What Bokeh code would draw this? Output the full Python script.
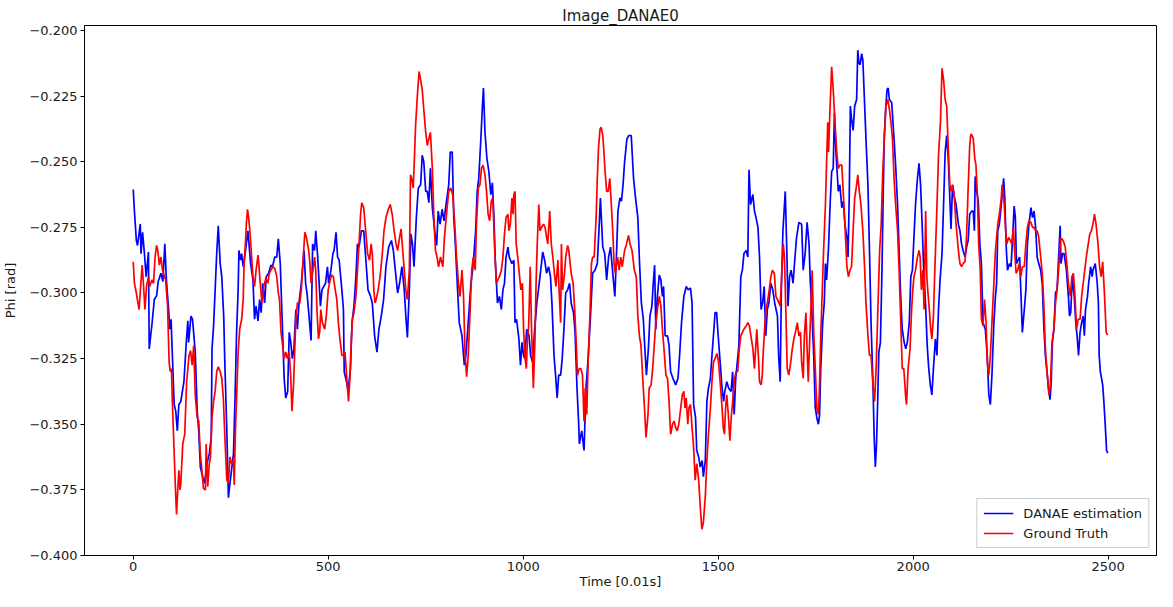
from bokeh.plotting import figure
from bokeh.models import Range1d, FixedTicker, CustomJSTickFormatter, Legend, LegendItem
from bokeh.embed import file_html
from bokeh.resources import INLINE

# ---------------- data ----------------
blue_t = [0, 3, 8, 11, 18, 20, 24, 29, 33, 39, 41, 48, 54, 60, 64, 71, 76, 81, 85, 90, 94, 97,
          100, 105, 109, 113, 117, 122, 130, 136, 140, 142, 148, 152, 159, 164, 168, 172, 178, 183, 189, 195,
          200, 202, 206, 210, 214, 218, 223, 227, 232, 235, 240, 244, 248, 252, 257, 261, 265, 269, 271, 275, 278, 282, 288, 294,
          301, 307, 311, 315, 320, 324, 328, 332, 337, 341, 347, 353, 357, 363, 368, 372, 377, 383, 387, 391, 396,
          400, 404, 408, 412, 417, 421, 425, 431, 438, 442, 446, 450, 456, 460, 465, 468, 473, 480, 484, 493, 498,
          501, 507, 512, 515, 520, 524, 528, 535, 539, 541, 547, 551, 557, 561, 566, 571, 575, 579, 585, 591, 596,
          602, 608, 613, 619, 625, 630, 636, 642, 648, 655, 662, 667, 672, 678, 683, 689, 695, 699,
          703, 708, 712, 716, 720, 726, 731, 737, 741, 745, 750, 754, 758, 762, 767, 773, 778, 782, 787, 792, 797,
          802, 809, 813, 818, 822, 826, 830, 836, 843, 849, 853, 859, 866, 872, 878, 882, 886, 891, 895, 898,
          902, 907, 912, 917, 921, 925, 928, 934, 939, 944, 948, 952, 956, 961, 964, 971, 976, 979, 983, 989, 993, 997,
          1001, 1004, 1009, 1015, 1019, 1024, 1030, 1035, 1041, 1045, 1050, 1055, 1060, 1065, 1070, 1074, 1079, 1083, 1087, 1091, 1096,
          1100, 1104, 1109, 1114, 1119, 1123, 1129, 1133, 1138, 1142, 1144, 1150, 1156, 1161, 1167, 1173, 1178, 1184, 1190, 1195, 1198,
          1204, 1209, 1214, 1219, 1224, 1229, 1235, 1239, 1243, 1248, 1252, 1256, 1260, 1266, 1271, 1277, 1283, 1288, 1294, 1298,
          1303, 1308, 1312, 1316, 1321, 1325, 1330, 1333, 1337, 1340, 1344, 1349, 1353, 1357, 1360, 1364, 1370, 1374, 1378, 1384, 1391, 1397,
          1401, 1406, 1412, 1418, 1423, 1429, 1433, 1437, 1442, 1445, 1450, 1454, 1459, 1462, 1467, 1471, 1475, 1480, 1484, 1489, 1492, 1496,
          1500, 1505, 1510, 1514, 1517, 1522, 1527, 1533, 1537, 1541, 1545, 1549, 1553, 1558, 1562, 1566, 1572, 1576, 1579, 1583, 1589, 1593, 1597,
          1602, 1606, 1610, 1614, 1618, 1622, 1626, 1630, 1635, 1640, 1645, 1652, 1655, 1659, 1662, 1666, 1669, 1672, 1676, 1679, 1683, 1687, 1692, 1697,
          1701, 1707, 1714, 1718, 1723, 1728, 1733, 1736, 1740, 1745, 1749, 1753, 1757, 1760, 1763, 1768, 1772, 1775, 1778, 1783, 1787, 1791, 1795, 1798,
          1802, 1808, 1812, 1817, 1821, 1825, 1830, 1833, 1836, 1839, 1842, 1846, 1850, 1855, 1858, 1861, 1864, 1868, 1871, 1875, 1879, 1884, 1888, 1892, 1897,
          1900, 1903, 1906, 1909, 1912, 1916, 1920, 1923, 1926, 1930, 1933, 1936, 1939, 1945, 1951, 1955, 1960, 1964, 1968, 1972, 1977, 1981, 1985, 1990, 1994, 1998,
          2002, 2006, 2011, 2015, 2019, 2023, 2027, 2032, 2036, 2040, 2044, 2048, 2052, 2057, 2061, 2065, 2069, 2074, 2078, 2082, 2086, 2090, 2094, 2097,
          2101, 2106, 2110, 2116, 2120, 2124, 2128, 2133, 2137, 2141, 2145, 2150, 2154, 2157, 2159, 2163, 2167, 2171, 2175, 2179, 2185, 2190, 2194, 2198,
          2202, 2207, 2211, 2214, 2217, 2221, 2226, 2229, 2232, 2235, 2239, 2242, 2247, 2251, 2255, 2259, 2262, 2265, 2269, 2273, 2276, 2280, 2285, 2289, 2293, 2297,
          2302, 2306, 2310, 2314, 2318, 2322, 2327, 2331, 2335, 2339, 2344, 2348, 2351, 2354, 2357, 2361, 2365, 2369, 2373, 2377, 2379, 2383, 2387, 2393, 2398,
          2401, 2404, 2408, 2413, 2417, 2421, 2424, 2428, 2432, 2436, 2439, 2442, 2447, 2450, 2455, 2459, 2461, 2467, 2472, 2475, 2477, 2480, 2486, 2489, 2492, 2496, 2499]
blue_v = [-0.2606, -0.2688, -0.2800, -0.2819, -0.2737, -0.2850, -0.2769, -0.2856, -0.2938, -0.2844, -0.3213, -0.3119, -0.3025, -0.3010, -0.2956, -0.2925, -0.2956, -0.2813, -0.2950, -0.3050, -0.3138, -0.3100,
          -0.3225, -0.3425, -0.3450, -0.3525, -0.3425, -0.3413, -0.3338, -0.3188, -0.3106, -0.3188, -0.3088, -0.3100, -0.3225, -0.3450, -0.3525, -0.3663, -0.3700, -0.3725, -0.3650, -0.3613,
          -0.3550, -0.3213, -0.3125, -0.2988, -0.2850, -0.2744, -0.2888, -0.2938, -0.3088, -0.3275, -0.3525, -0.3780, -0.3725, -0.3675, -0.3613, -0.3400, -0.3150, -0.2988, -0.2838, -0.2875, -0.2850, -0.2900, -0.2838, -0.2763,
          -0.2888, -0.2950, -0.3100, -0.3050, -0.3106, -0.3025, -0.3075, -0.2963, -0.3038, -0.2938, -0.2925, -0.2894, -0.2900, -0.2863, -0.2863, -0.2794, -0.2888, -0.3150, -0.3325, -0.3400, -0.3375,
          -0.3150, -0.3188, -0.3250, -0.3213, -0.3063, -0.3138, -0.3038, -0.2963, -0.2838, -0.2963, -0.3006, -0.3075, -0.3181, -0.2813, -0.2838, -0.2763, -0.2863, -0.3050, -0.2988, -0.2963, -0.2900,
          -0.2963, -0.2913, -0.2850, -0.2838, -0.2769, -0.2863, -0.2875, -0.2988, -0.3063, -0.3300, -0.3338, -0.3375, -0.3288, -0.3113, -0.3050, -0.2938, -0.2813, -0.2825, -0.2763, -0.2763, -0.2863,
          -0.2988, -0.3010, -0.3038, -0.3163, -0.3225, -0.3138, -0.3088, -0.3025, -0.2900, -0.2825, -0.2800, -0.2838, -0.2913, -0.3000, -0.2963, -0.2900, -0.2988, -0.3088,
          -0.3169, -0.2988, -0.2775, -0.2813, -0.2900, -0.2713, -0.2600, -0.2588, -0.2475, -0.2500, -0.2613, -0.2613, -0.2656, -0.2525, -0.2675, -0.2763, -0.2819, -0.2688, -0.2738, -0.2681, -0.2725,
          -0.2663, -0.2588, -0.2463, -0.2463, -0.2713, -0.2813, -0.2938, -0.3113, -0.3163, -0.3275, -0.3238, -0.3113, -0.2963, -0.2888, -0.2763, -0.2613, -0.2563, -0.2425, -0.2300, -0.2219,
          -0.2388, -0.2488, -0.2538, -0.2625, -0.2580, -0.2713, -0.2863, -0.3038, -0.3013, -0.3063, -0.2988, -0.2963, -0.2863, -0.2825, -0.2863, -0.2888, -0.2875, -0.3113, -0.3100, -0.3175, -0.3275, -0.3188,
          -0.3238, -0.3250, -0.3138, -0.3163, -0.3238, -0.3263, -0.3125, -0.3038, -0.2963, -0.2913, -0.2844, -0.2875, -0.2925, -0.2900, -0.2938, -0.3050, -0.3238, -0.3313, -0.3400, -0.3313, -0.3313,
          -0.3250, -0.3150, -0.3000, -0.2988, -0.2963, -0.3038, -0.3075, -0.3150, -0.3363, -0.3488, -0.3575, -0.3525, -0.3600, -0.3363, -0.3238, -0.3075, -0.2925, -0.2913, -0.2888, -0.2738, -0.2638,
          -0.2825, -0.2850, -0.2950, -0.2863, -0.2825, -0.2913, -0.3013, -0.2863, -0.2688, -0.2638, -0.2650, -0.2588, -0.2500, -0.2413, -0.2400, -0.2400, -0.2563, -0.2638, -0.2713, -0.2875,
          -0.3038, -0.3100, -0.3213, -0.3313, -0.3213, -0.3088, -0.3050, -0.2975, -0.2894, -0.3138, -0.3013, -0.2931, -0.2950, -0.3013, -0.2975, -0.3163, -0.3163, -0.3200, -0.3300, -0.3325, -0.3350, -0.3325,
          -0.3238, -0.3113, -0.3013, -0.2975, -0.2988, -0.2981, -0.3038, -0.3425, -0.3475, -0.3600, -0.3625, -0.3663, -0.3638, -0.3700, -0.3638, -0.3413, -0.3363, -0.3325, -0.3238, -0.3138, -0.3075, -0.3075,
          -0.3163, -0.3263, -0.3363, -0.3413, -0.3375, -0.3338, -0.3363, -0.3375, -0.3300, -0.3463, -0.3325, -0.3263, -0.3200, -0.2938, -0.2913, -0.2850, -0.2838, -0.2863, -0.2531, -0.2663, -0.2625, -0.2688, -0.2713,
          -0.2750, -0.2863, -0.3063, -0.3038, -0.2975, -0.3163, -0.3063, -0.3038, -0.2963, -0.2988, -0.3038, -0.3088, -0.3238, -0.3338, -0.2988, -0.2763, -0.2688, -0.2613, -0.2838, -0.3050, -0.2938, -0.2913, -0.2963, -0.2863,
          -0.2788, -0.2731, -0.2738, -0.2913, -0.2850, -0.2731, -0.2813, -0.2950, -0.3063, -0.3238, -0.3438, -0.3475, -0.3500, -0.3463, -0.3288, -0.3113, -0.3038, -0.2888, -0.2950, -0.2825, -0.2663, -0.2538, -0.2525, -0.2313,
          -0.2463, -0.2613, -0.2588, -0.2675, -0.2650, -0.2738, -0.2788, -0.2863, -0.2638, -0.2288, -0.2338, -0.2381, -0.2288, -0.2263, -0.2075, -0.2125, -0.2130, -0.2088, -0.2113, -0.2263, -0.2413, -0.2588, -0.2838, -0.3113, -0.3350,
          -0.3550, -0.3663, -0.3575, -0.3413, -0.3225, -0.3188, -0.2913, -0.2638, -0.2400, -0.2288, -0.2225, -0.2219, -0.2263, -0.2275, -0.2413, -0.2513, -0.2663, -0.2838, -0.3013, -0.3138, -0.3188, -0.3213, -0.3188, -0.3113, -0.2938, -0.2913,
          -0.2788, -0.2663, -0.2563, -0.2506, -0.2588, -0.2738, -0.2913, -0.3050, -0.3200, -0.3288, -0.3350, -0.3388, -0.3288, -0.3175, -0.3238, -0.3063, -0.2950, -0.2850, -0.2663, -0.2463, -0.2400, -0.2488, -0.2638, -0.2756,
          -0.2588, -0.2638, -0.2663, -0.2738, -0.2763, -0.2813, -0.2838, -0.2863, -0.2825, -0.2800, -0.2700, -0.2688, -0.2688, -0.2763, -0.2556, -0.2613, -0.2650, -0.2813, -0.2888, -0.3113, -0.3138, -0.3238, -0.3388, -0.3425,
          -0.3313, -0.3113, -0.3013, -0.2963, -0.2763, -0.2738, -0.2663, -0.2613, -0.2563, -0.2638, -0.2838, -0.2913, -0.2888, -0.2900, -0.2788, -0.2669, -0.2713, -0.2888, -0.2875, -0.2863, -0.2988, -0.3150, -0.3063, -0.2988, -0.2813, -0.2738,
          -0.2675, -0.2713, -0.2688, -0.2750, -0.2863, -0.2888, -0.2913, -0.2963, -0.3125, -0.3238, -0.3313, -0.3375, -0.3406, -0.3338, -0.3188, -0.3138, -0.3000, -0.2988, -0.2863, -0.2744, -0.2888, -0.2850, -0.2850, -0.2913, -0.3013,
          -0.3088, -0.3075, -0.2938, -0.3013, -0.3113, -0.3175, -0.3238, -0.3150, -0.3113, -0.3088, -0.3163, -0.3063, -0.3013, -0.2963, -0.2900, -0.2938, -0.2913, -0.2888, -0.2963, -0.3038, -0.3238, -0.3300, -0.3350, -0.3413, -0.3488, -0.3600, -0.3610]

red_t = [0, 3, 8, 12, 15, 19, 23, 26, 30, 34, 39, 42, 48, 52, 56, 60, 63, 67, 71, 75, 79, 83, 88, 92, 95, 98,
         100, 105, 109, 111, 115, 117, 120, 122, 127, 132, 137, 143, 147, 151, 155, 159, 164, 168, 172, 176, 180, 185, 187, 191, 195, 198,
         202, 206, 210, 214, 218, 223, 227, 231, 235, 240, 244, 248, 252, 257, 259, 262, 265, 269, 273, 278, 282, 284, 288, 290, 293, 296, 299,
         303, 307, 311, 315, 320, 322, 325, 330, 335, 340, 345, 349, 353, 358, 363, 368, 372, 375, 379, 383, 387, 391, 395,
         400, 404, 407, 411, 414, 417, 421, 423, 427, 431, 436, 440, 444, 450, 453, 456, 461, 465, 468, 471, 475, 478, 481, 485, 491, 495,
         500, 505, 509, 513, 518, 522, 526, 530, 535, 539, 543, 547, 552, 556, 559, 562, 566, 571, 575, 579, 583, 586, 591, 596,
         601, 606, 610, 613, 617, 620, 623, 628, 633, 638, 643, 648, 654, 659, 664, 669, 674, 678, 683, 687, 691, 695, 699,
         703, 708, 711, 714, 718, 721, 724, 729, 733, 737, 741, 745, 750, 754, 758, 762, 767, 771, 775, 779, 783, 788, 794, 798,
         804, 809, 814, 819, 824, 829, 834, 838, 843, 847, 851, 855, 859, 864, 868, 872, 877, 880, 885, 889, 893, 897,
         902, 906, 910, 914, 918, 922, 927, 931, 935, 939, 944, 948, 952, 956, 961, 963, 967, 971, 974, 976, 979, 982, 986, 990, 994, 998,
         1001, 1004, 1008, 1011, 1014, 1018, 1021, 1024, 1026, 1030, 1033, 1036, 1040, 1043, 1047, 1052, 1056, 1060, 1063, 1068, 1072, 1076, 1080, 1084, 1089, 1092, 1096, 1098,
         1101, 1106, 1109, 1114, 1117, 1123, 1128, 1132, 1136, 1139, 1144, 1148, 1152, 1156, 1159, 1163, 1167, 1171, 1175, 1178, 1182, 1187, 1190, 1193, 1197,
         1200, 1204, 1207, 1210, 1214, 1218, 1222, 1226, 1230, 1233, 1236, 1242, 1246, 1250, 1254, 1260, 1265, 1270, 1274, 1279, 1285, 1290, 1294, 1298,
         1302, 1307, 1311, 1315, 1320, 1323, 1328, 1332, 1336, 1340, 1344, 1349, 1353, 1357, 1361, 1366, 1370, 1374, 1378, 1383, 1387, 1391, 1395, 1399,
         1404, 1408, 1412, 1415, 1418, 1422, 1425, 1429, 1433, 1437, 1441, 1445, 1450, 1454, 1458, 1462, 1467, 1471, 1475, 1480, 1484, 1488, 1492, 1497,
         1501, 1505, 1510, 1513, 1516, 1519, 1522, 1526, 1530, 1534, 1538, 1542, 1546, 1550, 1554, 1558, 1562, 1566, 1572, 1576, 1580, 1584, 1589, 1593, 1596, 1599,
         1603, 1606, 1610, 1613, 1616, 1620, 1623, 1626, 1631, 1635, 1639, 1644, 1648, 1652, 1656, 1659, 1663, 1667, 1670, 1673, 1677, 1681, 1685, 1690, 1694, 1698,
         1703, 1707, 1711, 1714, 1718, 1721, 1725, 1728, 1731, 1735, 1738, 1741, 1745, 1749, 1753, 1757, 1760, 1763, 1767, 1770, 1775, 1778, 1781, 1783, 1787, 1791, 1795,
         1800, 1804, 1808, 1812, 1817, 1821, 1825, 1830, 1834, 1838, 1842, 1846, 1850, 1855, 1858, 1862, 1866, 1871, 1875, 1879, 1884, 1888, 1892, 1897,
         1901, 1905, 1910, 1914, 1918, 1922, 1926, 1930, 1935, 1939, 1943, 1947, 1951, 1955, 1960, 1964, 1968, 1972, 1976, 1981, 1983, 1987, 1992, 1996, 1999,
         2002, 2006, 2011, 2015, 2018, 2021, 2025, 2028, 2032, 2035, 2038, 2042, 2045, 2048, 2052, 2055, 2060, 2063, 2065, 2070, 2074, 2078, 2082, 2086, 2090, 2094, 2097,
         2101, 2105, 2110, 2116, 2120, 2124, 2128, 2133, 2137, 2141, 2145, 2148, 2151, 2154, 2158, 2161, 2165, 2168, 2172, 2175, 2179, 2183, 2187, 2190, 2194, 2198,
         2202, 2207, 2211, 2217, 2221, 2226, 2228, 2231, 2234, 2237, 2240, 2245, 2249, 2253, 2257, 2259, 2264, 2268, 2272, 2276, 2280, 2285, 2289, 2293, 2297,
         2302, 2306, 2310, 2314, 2318, 2322, 2327, 2331, 2335, 2339, 2344, 2348, 2352, 2356, 2361, 2365, 2369, 2373, 2378, 2382, 2386, 2390, 2394, 2398,
         2403, 2407, 2411, 2415, 2419, 2423, 2428, 2432, 2436, 2440, 2444, 2449, 2453, 2457, 2461, 2465, 2469, 2474, 2478, 2482, 2486, 2490, 2495, 2499]
red_v = [-0.2881, -0.2963, -0.3000, -0.3038, -0.3063, -0.2975, -0.2894, -0.2963, -0.3063, -0.2975, -0.2938, -0.2975, -0.2950, -0.2963, -0.2863, -0.2819, -0.2838, -0.2894, -0.2863, -0.2913, -0.2931, -0.2950, -0.3050, -0.3263, -0.3300, -0.3288,
         -0.3400, -0.3613, -0.3775, -0.3844, -0.3725, -0.3675, -0.3750, -0.3725, -0.3575, -0.3538, -0.3338, -0.3238, -0.3219, -0.3275, -0.3200, -0.3388, -0.3475, -0.3488, -0.3613, -0.3675, -0.3744, -0.3750, -0.3575, -0.3738, -0.3650, -0.3625,
         -0.3475, -0.3413, -0.3375, -0.3300, -0.3281, -0.3300, -0.3325, -0.3400, -0.3550, -0.3713, -0.3725, -0.3625, -0.3650, -0.3638, -0.3731, -0.3525, -0.3400, -0.3225, -0.3138, -0.3100, -0.3025, -0.2900, -0.2800, -0.2738, -0.2681, -0.2713, -0.2763,
         -0.2850, -0.2938, -0.2975, -0.2913, -0.2856, -0.2888, -0.2950, -0.3038, -0.2975, -0.2944, -0.2963, -0.2925, -0.2913, -0.2900, -0.2906, -0.2938, -0.3000, -0.3025, -0.3150, -0.3200, -0.3250, -0.3225, -0.3250,
         -0.3225, -0.3325, -0.3450, -0.3350, -0.3225, -0.3100, -0.3038, -0.3038, -0.3040, -0.2988, -0.2863, -0.2769, -0.2788, -0.2838, -0.2888, -0.2963, -0.2913, -0.2863, -0.2913, -0.3063, -0.3175, -0.3150, -0.3063, -0.3113, -0.3138, -0.3088,
         -0.2988, -0.2950, -0.2931, -0.2938, -0.2988, -0.3025, -0.3113, -0.3175, -0.3238, -0.3238, -0.3225, -0.3313, -0.3413, -0.3313, -0.3188, -0.3100, -0.3075, -0.3013, -0.2913, -0.2813, -0.2700, -0.2656, -0.2675, -0.2763,
         -0.2850, -0.2875, -0.2813, -0.2850, -0.2988, -0.3038, -0.3025, -0.2988, -0.2938, -0.2863, -0.2763, -0.2713, -0.2681, -0.2663, -0.2700, -0.2763, -0.2813, -0.2838, -0.2788, -0.2756, -0.2838, -0.2913, -0.2988,
         -0.3025, -0.2913, -0.2550, -0.2563, -0.2600, -0.2488, -0.2363, -0.2238, -0.2156, -0.2188, -0.2225, -0.2300, -0.2388, -0.2438, -0.2413, -0.2388, -0.2525, -0.2713, -0.2838, -0.2863, -0.2900, -0.2863, -0.2900, -0.2788,
         -0.2688, -0.2613, -0.2600, -0.2625, -0.2725, -0.2863, -0.2963, -0.3013, -0.2913, -0.3013, -0.3238, -0.3319, -0.3238, -0.3063, -0.2913, -0.2863, -0.2913, -0.2738, -0.2600, -0.2588, -0.2525, -0.2513,
         -0.2550, -0.2613, -0.2700, -0.2725, -0.2650, -0.2638, -0.2838, -0.2963, -0.2950, -0.2938, -0.2913, -0.2863, -0.2775, -0.2713, -0.2700, -0.2763, -0.2738, -0.2638, -0.2700, -0.2625, -0.2613, -0.2813, -0.2863, -0.2925, -0.2988, -0.2963,
         -0.3138, -0.3238, -0.3288, -0.3175, -0.3125, -0.2900, -0.3113, -0.3263, -0.3363, -0.3188, -0.2963, -0.2813, -0.2663, -0.2763, -0.2750, -0.2738, -0.2750, -0.2788, -0.2813, -0.2688, -0.2813, -0.2863, -0.2925, -0.2975, -0.2875, -0.2988, -0.3113, -0.2813,
         -0.2988, -0.2925, -0.2863, -0.2819, -0.2838, -0.2925, -0.2963, -0.3063, -0.3188, -0.3313, -0.3288, -0.3288, -0.3313, -0.3488, -0.3363, -0.3463, -0.3238, -0.3088, -0.2888, -0.2863, -0.2863, -0.2713, -0.2563, -0.2450, -0.2375,
         -0.2369, -0.2400, -0.2463, -0.2538, -0.2613, -0.2613, -0.2563, -0.2663, -0.2775, -0.2888, -0.2925, -0.2863, -0.2913, -0.2863, -0.2900, -0.2838, -0.2813, -0.2781, -0.2813, -0.2838, -0.2913, -0.2938, -0.3088, -0.3163,
         -0.3200, -0.3338, -0.3438, -0.3550, -0.3463, -0.3363, -0.3350, -0.3288, -0.3200, -0.3113, -0.3063, -0.3013, -0.3050, -0.3138, -0.3213, -0.3313, -0.3325, -0.3413, -0.3538, -0.3500, -0.3488, -0.3513, -0.3525, -0.3500,
         -0.3438, -0.3388, -0.3375, -0.3438, -0.3400, -0.3500, -0.3438, -0.3425, -0.3513, -0.3588, -0.3713, -0.3650, -0.3713, -0.3813, -0.3900, -0.3875, -0.3775, -0.3638, -0.3538, -0.3438, -0.3338, -0.3263, -0.3250, -0.3231,
         -0.3263, -0.3338, -0.3438, -0.3513, -0.3538, -0.3438, -0.3388, -0.3463, -0.3563, -0.3463, -0.3400, -0.3325, -0.3300, -0.3300, -0.3213, -0.3163, -0.3150, -0.3138, -0.3125, -0.3113, -0.3125, -0.3163, -0.3213, -0.3288, -0.3213, -0.3138,
         -0.3238, -0.3338, -0.3350, -0.3313, -0.3213, -0.3113, -0.3063, -0.3038, -0.2988, -0.2938, -0.2913, -0.2925, -0.3013, -0.3025, -0.3038, -0.3050, -0.2925, -0.2813, -0.2863, -0.3038, -0.3288, -0.3313, -0.3275, -0.3213, -0.3175, -0.3150,
         -0.3113, -0.3163, -0.3150, -0.3263, -0.3325, -0.3163, -0.3075, -0.3213, -0.3338, -0.3163, -0.3050, -0.2913, -0.3150, -0.3288, -0.3438, -0.3463, -0.3350, -0.3163, -0.2988, -0.2850, -0.2663, -0.2500, -0.2350, -0.2463, -0.2288, -0.2138, -0.2225,
         -0.2363, -0.2463, -0.2525, -0.2513, -0.2513, -0.2625, -0.2738, -0.2900, -0.2938, -0.2913, -0.2900, -0.2763, -0.2638, -0.2588, -0.2550, -0.2613, -0.2663, -0.2763, -0.2888, -0.3038, -0.3163, -0.3238, -0.3238, -0.3350,
         -0.3413, -0.3288, -0.3038, -0.2838, -0.2738, -0.2538, -0.2413, -0.2288, -0.2263, -0.2300, -0.2350, -0.2413, -0.2563, -0.2663, -0.2763, -0.2913, -0.3100, -0.3288, -0.3288, -0.3400, -0.3425, -0.3288, -0.3213, -0.3063, -0.2988,
         -0.2938, -0.2913, -0.2863, -0.2838, -0.2863, -0.2988, -0.2913, -0.3063, -0.2688, -0.2938, -0.3000, -0.3075, -0.3138, -0.3175, -0.3088, -0.2938, -0.2713, -0.2575, -0.2475, -0.2350, -0.2144, -0.2188, -0.2263, -0.2288, -0.2450, -0.2588, -0.2613,
         -0.2588, -0.2625, -0.2738, -0.2838, -0.2888, -0.2900, -0.2888, -0.2880, -0.2780, -0.2600, -0.2438, -0.2394, -0.2400, -0.2410, -0.2488, -0.2513, -0.2638, -0.2813, -0.2913, -0.3100, -0.3125, -0.3025, -0.3113, -0.3263, -0.3313, -0.3238,
         -0.3113, -0.2963, -0.2838, -0.2738, -0.2700, -0.2638, -0.2588, -0.2613, -0.2675, -0.2763, -0.2813, -0.2788, -0.2800, -0.2813, -0.2750, -0.2813, -0.2925, -0.2913, -0.2888, -0.2938, -0.2900, -0.2900, -0.2813, -0.2750, -0.2725,
         -0.2731, -0.2750, -0.2750, -0.2763, -0.2763, -0.2788, -0.2863, -0.2925, -0.3038, -0.3213, -0.3313, -0.3388, -0.3350, -0.3188, -0.3138, -0.3038, -0.2988, -0.2913, -0.2794, -0.2794, -0.2806, -0.2825, -0.2888, -0.2963,
         -0.3013, -0.2938, -0.2925, -0.3013, -0.3138, -0.3100, -0.3100, -0.3013, -0.2963, -0.2913, -0.2863, -0.2813, -0.2775, -0.2763, -0.2738, -0.2700, -0.2738, -0.2813, -0.2900, -0.2938, -0.2881, -0.2988, -0.3150, -0.3160]

x_ticks = [0, 500, 1000, 1500, 2000, 2500]
y_ticks = [-0.400, -0.375, -0.350, -0.325, -0.300, -0.275, -0.250, -0.225, -0.200]
series_labels = ["DANAE estimation", "Ground Truth"]
title_text = "Image_DANAE0"
x_label = "Time [0.01s]"
y_label = "Phi [rad]"

# ---------------- figure ----------------
FONT = "DejaVu Sans"
TXT = "#1a1a1a"
p = figure(width=1157, height=591, output_backend="svg", toolbar_location=None,
           x_range=Range1d(-125, 2624), y_range=Range1d(-0.400, -0.1981),
           min_border_left=83, min_border_right=1, min_border_top=25, min_border_bottom=28,
           background_fill_color="white", border_fill_color="white")

p.title.text = title_text
p.title.align = "center"
p.title.text_font = FONT
p.title.text_font_size = "15px"
p.title.text_font_style = "normal"
p.title.text_color = TXT
p.title.offset = 0
p.title.standoff = 2

p.grid.visible = False
p.outline_line_color = "black"
p.outline_line_width = 1
p.outline_line_alpha = 1

for ax in (p.xaxis[0], p.yaxis[0]):
    ax.major_tick_in = 0
    ax.major_tick_out = 4
    ax.minor_tick_in = 0
    ax.minor_tick_out = 0
    ax.major_label_text_font = FONT
    ax.major_label_text_font_size = "13px"
    ax.major_label_text_color = TXT
    ax.axis_label_text_font = FONT
    ax.axis_label_text_font_size = "13px"
    ax.axis_label_text_font_style = "normal"
    ax.axis_label_text_color = TXT
    ax.axis_line_color = "black"
    ax.major_tick_line_color = "black"

p.xaxis.ticker = FixedTicker(ticks=x_ticks)
p.yaxis.ticker = FixedTicker(ticks=y_ticks)
p.yaxis.formatter = CustomJSTickFormatter(
    code="return (tick < 0 ? '\u2212' : '') + Math.abs(tick).toFixed(3);")
p.xaxis.axis_label = x_label
p.yaxis.axis_label = y_label
p.xaxis.major_label_standoff = 2
p.xaxis.axis_label_standoff = 0
p.yaxis.major_label_standoff = 3
p.yaxis.axis_label_standoff = 8

b = p.line(blue_t, blue_v, line_color="#0000ff", line_width=1.7)
r = p.line(red_t, red_v, line_color="#ff0000", line_width=1.7)

legend = Legend(items=[LegendItem(label=series_labels[0], renderers=[b]),
                       LegendItem(label=series_labels[1], renderers=[r])],
                location="bottom_right")
legend.label_text_font = FONT
legend.label_text_font_size = "13px"
legend.label_text_color = TXT
legend.glyph_width = 30
legend.glyph_height = 16
legend.label_standoff = 10
legend.spacing = 4
legend.padding = 6
legend.margin = 7
legend.border_line_color = "#cccccc"
legend.border_line_alpha = 1
legend.background_fill_alpha = 0.85
p.add_layout(legend)

open("out.html", "w").write(file_html(p, INLINE))
